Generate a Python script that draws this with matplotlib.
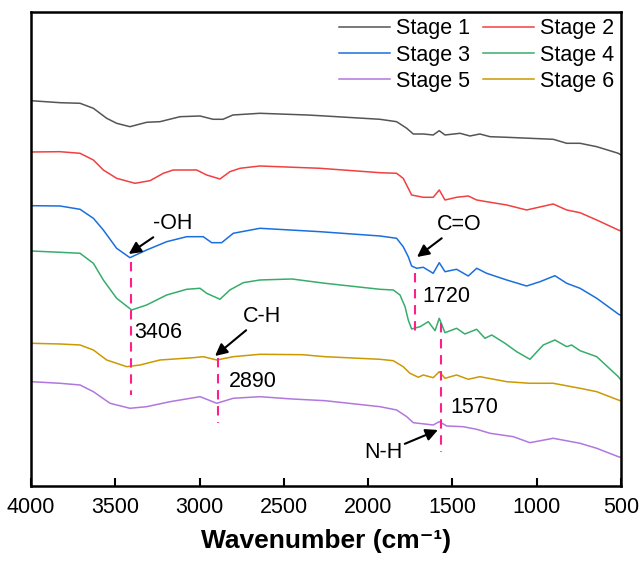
import matplotlib
matplotlib.use("Agg")
import matplotlib.pyplot as plt

plt.rcParams['font.family'] = ['Liberation Sans', 'DejaVu Sans']

# ---- data (wavenumber cm-1, offset transmittance a.u.) ----
s1_w = [4000, 3828, 3709, 3630, 3551, 3492, 3413, 3314, 3235, 3116, 2997, 2920, 2861, 2802, 2642,
        2363, 2286, 1930, 1831, 1771, 1732, 1673, 1614, 1578, 1544, 1455, 1396, 1337, 1277,
        1178, 1040, 902, 822, 743, 644, 516, 500]
s1_y = [385.3, 383.3, 382.7, 377.7, 367.7, 362.7, 359.3, 363.7, 364.3, 369.3, 370, 366.7, 366.7, 371, 372.7,
        371, 370.3, 366.7, 364.3, 357.7, 352, 352, 351, 355.3, 351, 352.7, 350, 352, 349.3,
        348.7, 347.7, 346.7, 342.7, 342.7, 339.3, 332.7, 331]

s2_w = [4000, 3828, 3709, 3630, 3571, 3492, 3383, 3294, 3215, 3156, 3017, 2958, 2879, 2820, 2760,
        2642, 2286, 1930, 1831, 1792, 1742, 1673, 1614, 1578, 1544, 1475, 1406, 1356, 1297,
        1178, 1060, 902, 822, 743, 644, 516, 500]
s2_y = [334, 334.3, 332.7, 326, 316, 307.7, 302.7, 305.3, 312.7, 316, 316, 311, 307, 314.3, 317.7,
        320, 317.7, 313.3, 312.7, 307.7, 291, 288.7, 288.7, 296, 286, 288.7, 290, 286, 284.3,
        281, 276, 282, 276, 273.3, 266, 256, 255]

s3_w = [4000, 3828, 3709, 3630, 3571, 3492, 3413, 3314, 3195, 3076, 2978, 2928, 2869, 2800, 2642,
        2286, 1930, 1831, 1792, 1762, 1742, 1712, 1673, 1614, 1578, 1544, 1475, 1406, 1356, 1297,
        1178, 1060, 980, 892, 822, 743, 644, 516, 500]
s3_y = [280.3, 280, 276.7, 267.7, 256, 237.7, 228.3, 236, 244.3, 249.3, 249.3, 243.3, 243.3, 252.7, 257.7,
        254.3, 250, 247.7, 239.3, 229.3, 220, 217.7, 218.7, 212.7, 223.3, 214.3, 216.7, 210, 217.7, 212.7,
        206, 200, 204.3, 210.3, 202.7, 197.7, 187.7, 172, 170.5]

s4_w = [4000, 3828, 3709, 3630, 3571, 3492, 3403, 3314, 3195, 3076, 2997, 2958, 2879, 2820, 2741,
        2642, 2452, 2256, 1930, 1851, 1811, 1781, 1762, 1742, 1692, 1643, 1603, 1578, 1544, 1475,
        1426, 1356, 1307, 1267, 1188, 1119, 1040, 961, 892, 822, 793, 743, 644, 516, 500]
s4_y = [235, 233.7, 232.7, 222.7, 206, 187.7, 176, 181, 191, 196.7, 197.7, 192.7, 186.7, 196, 203.3,
        206, 207, 202.7, 196.7, 196, 191, 179.3, 166, 157, 159.3, 164.3, 155.3, 167.7, 153.3, 157.7,
        152, 156.7, 147.7, 151, 142.7, 134.3, 126.7, 141, 146, 139.3, 141, 135.3, 129.3, 109.3, 106]

s5_w = [4000, 3828, 3709, 3630, 3531, 3413, 3314, 3175, 2997, 2898, 2800, 2642, 2452, 2256,
        1930, 1831, 1771, 1732, 1614, 1578, 1534, 1437, 1356, 1277, 1139, 1040, 902, 743, 644, 516, 500]
s5_y = [104.3, 102.7, 101, 94.3, 82.7, 77.7, 79.3, 84.3, 89.3, 82.7, 87.7, 89.3, 87, 85.3,
        79.3, 76, 69.3, 63.3, 61, 64.3, 60, 59.3, 56.7, 52.7, 49.3, 43.3, 47.7, 42.7, 37.7, 29.3, 28.5]

s6_w = [4000, 3828, 3709, 3630, 3551, 3432, 3353, 3235, 3037, 2978, 2898, 2800, 2642, 2392, 2256,
        1930, 1851, 1792, 1752, 1702, 1673, 1614, 1578, 1544, 1475, 1406, 1337, 1178, 1040, 902,
        743, 644, 516, 500]
s6_y = [142.7, 142, 141, 136, 126, 119.3, 121, 126, 128.3, 129.3, 126, 129.3, 131.7, 131.3, 129.3,
        126.7, 125.3, 119.3, 112.7, 108.7, 111, 108.3, 114.3, 107.7, 111, 106.7, 109.3, 104.3, 102.7, 102.7,
        97.7, 94.3, 86, 85]

labels = ['Stage 1', 'Stage 2', 'Stage 3', 'Stage 4', 'Stage 5', 'Stage 6']
colors = ['#555555', '#F14040', '#1A6FDF', '#37AD6B', '#B177DE', '#CC9900']

peak_pos = [3406, 2890, 1720, 1570]
peak_lines = [(224, 91), (128, 63), (213, 151), (163, 34)]
x_ticks = [4000, 3500, 3000, 2500, 2000, 1500, 1000, 500]

fig = plt.figure(figsize=(6.39, 5.63), dpi=100)
ax = fig.add_axes([0.0485, 0.1368, 0.9233, 0.8419])

series = [(s1_w, s1_y), (s2_w, s2_y), (s3_w, s3_y), (s4_w, s4_y), (s5_w, s5_y), (s6_w, s6_y)]
handles = []
for (w, y), lab, c in zip(series, labels, colors):
    h, = ax.plot(w, y, color=c, lw=1.1, label=lab, solid_joinstyle='round')
    handles.append(h)

pink = '#FF1F8C'
for p, (y0, y1) in zip(peak_pos, peak_lines):
    ax.plot([p, p], [y0, y1], color=pink, lw=1.5, ls=(0, (4.5, 3.2)))

fs = 15.5
arrow = dict(arrowstyle='-|>', color='black', lw=1.5, mutation_scale=18, shrinkA=0, shrinkB=0)
ax.annotate('-OH', xy=(3420, 232), xytext=(3276, 262), fontsize=fs, ha='left', va='center',
            arrowprops=arrow)
ax.annotate('C-H', xy=(2908, 130), xytext=(2742, 169), fontsize=fs, ha='left', va='center',
            arrowprops=arrow)
ax.annotate('C=O', xy=(1710, 229), xytext=(1592, 261), fontsize=fs, ha='left', va='center',
            arrowprops=arrow)
ax.annotate('N-H', xy=(1586, 56), xytext=(1799, 33), fontsize=fs, ha='right', va='center',
            arrowprops=arrow)
ax.text(3385, 153, '3406', fontsize=fs, ha='left', va='center')
ax.text(2825, 104, '2890', fontsize=fs, ha='left', va='center')
ax.text(1681, 189, '1720', fontsize=fs, ha='left', va='center')
ax.text(1514, 78, '1570', fontsize=fs, ha='left', va='center')

ax.set_xlim(4000, 500)
ax.set_ylim(0, 474)
ax.set_xticks(x_ticks)
ax.set_xticklabels([str(t) for t in x_ticks])
ax.set_yticks([])
ax.tick_params(axis='x', direction='in', length=6, width=1.5, labelsize=fs, pad=8)
for s in ax.spines.values():
    s.set_linewidth(1.8)

ax.set_xlabel('Wavenumber (cm\u207b\u00b9)', fontsize=19, fontweight='bold', labelpad=8)

order = [0, 2, 4, 1, 3, 5]
leg = ax.legend([handles[i] for i in order], [labels[i] for i in order],
                ncol=2, loc='upper right', frameon=False, fontsize=fs,
                handlelength=2.35, handletextpad=0.3, columnspacing=0.6,
                labelspacing=0.24, borderaxespad=0.2, borderpad=0.1)

fig.savefig('out.png', dpi=100)
